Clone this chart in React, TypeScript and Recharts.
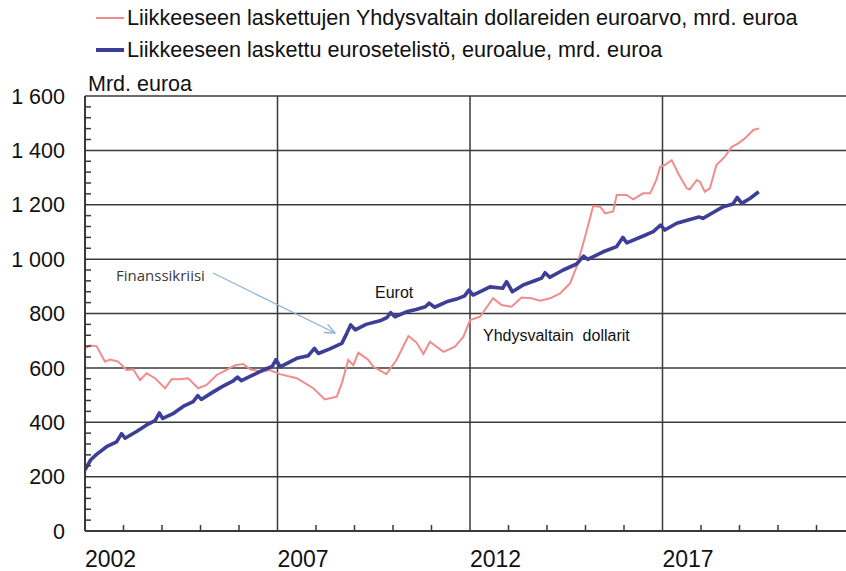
import { LineChart, Line, XAxis, YAxis, CartesianGrid } from "recharts";

// Liikkeeseen laskettujen USD-setelien euroarvo (mrd. euroa)
const usdDates = [
  2002.0, 2002.12, 2002.3, 2002.52, 2002.65, 2002.86, 2003.08, 2003.25, 2003.43, 2003.6,
  2003.82, 2004.08, 2004.25, 2004.47, 2004.68, 2004.94, 2005.16, 2005.42, 2005.64, 2005.9,
  2006.11, 2006.29, 2006.59, 2006.8, 2007.06, 2007.5, 2007.93, 2008.23, 2008.54, 2008.67,
  2008.84, 2008.97, 2009.1, 2009.36, 2009.49, 2009.83, 2010.09, 2010.4, 2010.61, 2010.79,
  2010.96, 2011.31, 2011.61, 2011.83, 2012.0, 2012.26, 2012.6, 2012.82, 2013.08, 2013.34,
  2013.6, 2013.82, 2014.08, 2014.34, 2014.6, 2014.77, 2014.99, 2015.2, 2015.38, 2015.51,
  2015.72, 2015.81, 2016.07, 2016.24, 2016.5, 2016.68, 2016.84, 2016.94, 2017.06, 2017.24,
  2017.41, 2017.63, 2017.71, 2017.89, 2017.97, 2018.1, 2018.23, 2018.4, 2018.62, 2018.8,
  2018.97, 2019.14, 2019.36, 2019.51,
];
const usdValues = [
  672, 682, 680, 623, 631, 623, 592, 595, 555, 580,
  562, 525, 558, 558, 562, 525, 537, 574, 590, 610,
  614, 595, 586, 592, 577, 562, 525, 484, 494, 543,
  629, 610, 656, 629, 604, 577, 629, 717, 693, 651,
  696, 659, 678, 715, 776, 788, 856, 831, 825, 859,
  856, 847, 856, 874, 911, 972, 1082, 1195, 1193, 1168,
  1175, 1236, 1236, 1220, 1242, 1242, 1291, 1340, 1346, 1364,
  1315, 1260, 1257, 1291, 1285, 1248, 1260, 1346, 1377, 1413,
  1426, 1444, 1475, 1481,
];

// Liikkeeseen laskettu eurosetelistö (mrd. euroa)
const eurDates = [
  2002.0, 2002.15, 2002.3, 2002.56, 2002.82, 2002.95, 2003.04, 2003.34, 2003.6, 2003.82,
  2003.93, 2004.02, 2004.3, 2004.55, 2004.81, 2004.93, 2005.02, 2005.29, 2005.55, 2005.85,
  2005.96, 2006.06, 2006.37, 2006.68, 2006.86, 2006.96, 2007.07, 2007.5, 2007.8, 2007.96,
  2008.06, 2008.36, 2008.67, 2008.8, 2008.9, 2009.02, 2009.3, 2009.66, 2009.84, 2009.94,
  2010.05, 2010.35, 2010.6, 2010.84, 2010.94, 2011.08, 2011.39, 2011.65, 2011.86, 2011.97,
  2012.08, 2012.52, 2012.85, 2012.95, 2013.1, 2013.38, 2013.73, 2013.86, 2013.95, 2014.07,
  2014.42, 2014.77, 2014.95, 2015.06, 2015.46, 2015.81, 2015.97, 2016.07, 2016.5, 2016.76,
  2016.95, 2017.06, 2017.37, 2017.71, 2017.95, 2018.05, 2018.27, 2018.58, 2018.83, 2018.94,
  2019.06, 2019.27, 2019.5,
];
const eurValues = [
  225, 262, 282, 310, 328, 358, 341, 366, 390, 406,
  434, 414, 433, 458, 476, 498, 484, 508, 530, 552,
  566, 553, 574, 595, 605, 630, 604, 635, 645, 672,
  653, 670, 690, 727, 758, 740, 760, 773, 785, 803,
  788, 806, 815, 825, 838, 823, 843, 853, 865, 886,
  868, 898, 893, 917, 880, 905, 923, 930, 950, 933,
  960, 982, 1011, 999, 1027, 1046, 1080, 1060, 1085, 1101,
  1125, 1107, 1132, 1146, 1155, 1150, 1168, 1193, 1203, 1227,
  1205, 1223, 1248,
];

const yearTicks = [
  2002, 2003, 2004, 2005, 2006, 2007, 2008, 2009, 2010, 2011, 2012,
  2013, 2014, 2015, 2016, 2017, 2018, 2019, 2020, 2021,
];
const labelYears = [2002, 2007, 2012, 2017];
const gridYears = [2002, 2007, 2012, 2017, 2022];
const majorValues = [0, 200, 400, 600, 800, 1000, 1200, 1400, 1600];
const valueTicks = [
  0, 40, 80, 120, 160, 200, 240, 280, 320, 360, 400, 440, 480, 520, 560, 600,
  640, 680, 720, 760, 800, 840, 880, 920, 960, 1000, 1040, 1080, 1120, 1160, 1200,
  1240, 1280, 1320, 1360, 1400, 1440, 1480, 1520, 1560, 1600,
];

const USD_COLOR = "#f08c8c";
const EUR_COLOR = "#3d3f96";
const GRID = "#3a3a3a";
const FONT = "'Liberation Sans', Arial, sans-serif";

const usdData = usdDates.map((t, i) => ({ t, usd: usdValues[i] }));
const eurData = eurDates.map((t, i) => ({ t, eur: eurValues[i] }));

const fmt = (v: number) =>
  v >= 1000 ? `${Math.floor(v / 1000)} ${String(v % 1000).padStart(3, "0")}` : String(v);

function YearTick(props: any) {
  const { x, y, payload } = props;
  if (labelYears.includes(payload.value)) {
    return (
      <text x={x} y={y + 36} textAnchor="start" fontSize={23} fontFamily={FONT} fill="#111">
        {payload.value}
      </text>
    );
  }
  return <line x1={x} x2={x} y1={y} y2={y - 6} stroke={GRID} strokeWidth={1.5} />;
}

function ValueTick(props: any) {
  const { x, y, payload } = props;
  if (majorValues.includes(payload.value)) {
    return (
      <text x={x - 20} y={y} dy="0.36em" textAnchor="end" fontSize={21.5} fontFamily={FONT} fill="#111">
        {fmt(payload.value)}
      </text>
    );
  }
  return <line x1={x} x2={x + 6} y1={y} y2={y} stroke={GRID} strokeWidth={1.5} />;
}

function LegendRow({ color, width, text, top }: { color: string; width: number; text: string; top: number }) {
  return (
    <div style={{ position: "absolute", left: 96, top, display: "flex", alignItems: "center", height: 26 }}>
      <span style={{ display: "inline-block", width: 28, height: width, background: color, marginRight: 3 }} />
      <span style={{ fontFamily: FONT, fontSize: 21.6, color: "#111", whiteSpace: "nowrap" }}>{text}</span>
    </div>
  );
}

export default function App() {
  return (
    <div
      style={{
        position: "fixed",
        left: 0,
        top: 0,
        width: 846,
        height: 571,
        overflow: "hidden",
        background: "#fff",
      }}
    >
      <LineChart width={880} height={571} margin={{ top: 96, right: 25, bottom: 0, left: 0 }}>
        <CartesianGrid
          stroke={GRID}
          strokeWidth={1.5}
          horizontalValues={majorValues}
          verticalValues={gridYears}
        />
        <XAxis
          dataKey="t"
          type="number"
          domain={[2002, 2022]}
          ticks={yearTicks}
          interval={0}
          height={40}
          tickSize={0}
          tickMargin={0}
          tickLine={false}
          axisLine={{ stroke: GRID, strokeWidth: 2 }}
          tick={<YearTick />}
          allowDataOverflow
        />
        <YAxis
          type="number"
          domain={[0, 1600]}
          ticks={valueTicks}
          interval={0}
          width={85}
          tickSize={0}
          tickMargin={0}
          tickLine={false}
          axisLine={{ stroke: GRID, strokeWidth: 2 }}
          tick={<ValueTick />}
          allowDataOverflow
        />
        <Line
          data={usdData}
          dataKey="usd"
          type="linear"
          stroke={USD_COLOR}
          strokeWidth={2}
          dot={false}
          isAnimationActive={false}
        />
        <Line
          data={eurData}
          dataKey="eur"
          type="linear"
          stroke={EUR_COLOR}
          strokeWidth={3.6}
          strokeLinejoin="round"
          dot={false}
          isAnimationActive={false}
        />
      </LineChart>

      <LegendRow
        color={USD_COLOR}
        width={2.5}
        top={5}
        text="Liikkeeseen laskettujen Yhdysvaltain dollareiden euroarvo, mrd. euroa"
      />
      <LegendRow
        color={EUR_COLOR}
        width={3.5}
        top={37}
        text="Liikkeeseen laskettu eurosetelistö, euroalue, mrd. euroa"
      />

      <svg
        width={846}
        height={571}
        style={{ position: "absolute", left: 0, top: 0, pointerEvents: "none" }}
      >
        <defs>
          <marker id="arrow" viewBox="0 0 10 10" refX="9" refY="5" markerWidth="9" markerHeight="9" orient="auto">
            <path d="M0,1 L9,5 L0,9" fill="none" stroke="#8fb2d8" strokeWidth={1.2} />
          </marker>
        </defs>
        <text x={88} y={91} fontSize={21.5} fontFamily={FONT} fill="#111">
          Mrd. euroa
        </text>
        <text x={116} y={281} fontSize={15} fontFamily="'Open Sans', sans-serif" fill="#3a3a3a">
          Finanssikriisi
        </text>
        <line x1={213} y1={273} x2={335} y2={333} stroke="#8fb2d8" strokeWidth={1.3} markerEnd="url(#arrow)" />
        <text x={375} y={298} fontSize={16} fontFamily={FONT} fill="#111">
          Eurot
        </text>
        <text x={483} y={341} fontSize={16} fontFamily={FONT} fill="#111" style={{ whiteSpace: "pre" }}>
          {"Yhdysvaltain  dollarit"}
        </text>
      </svg>
    </div>
  );
}
